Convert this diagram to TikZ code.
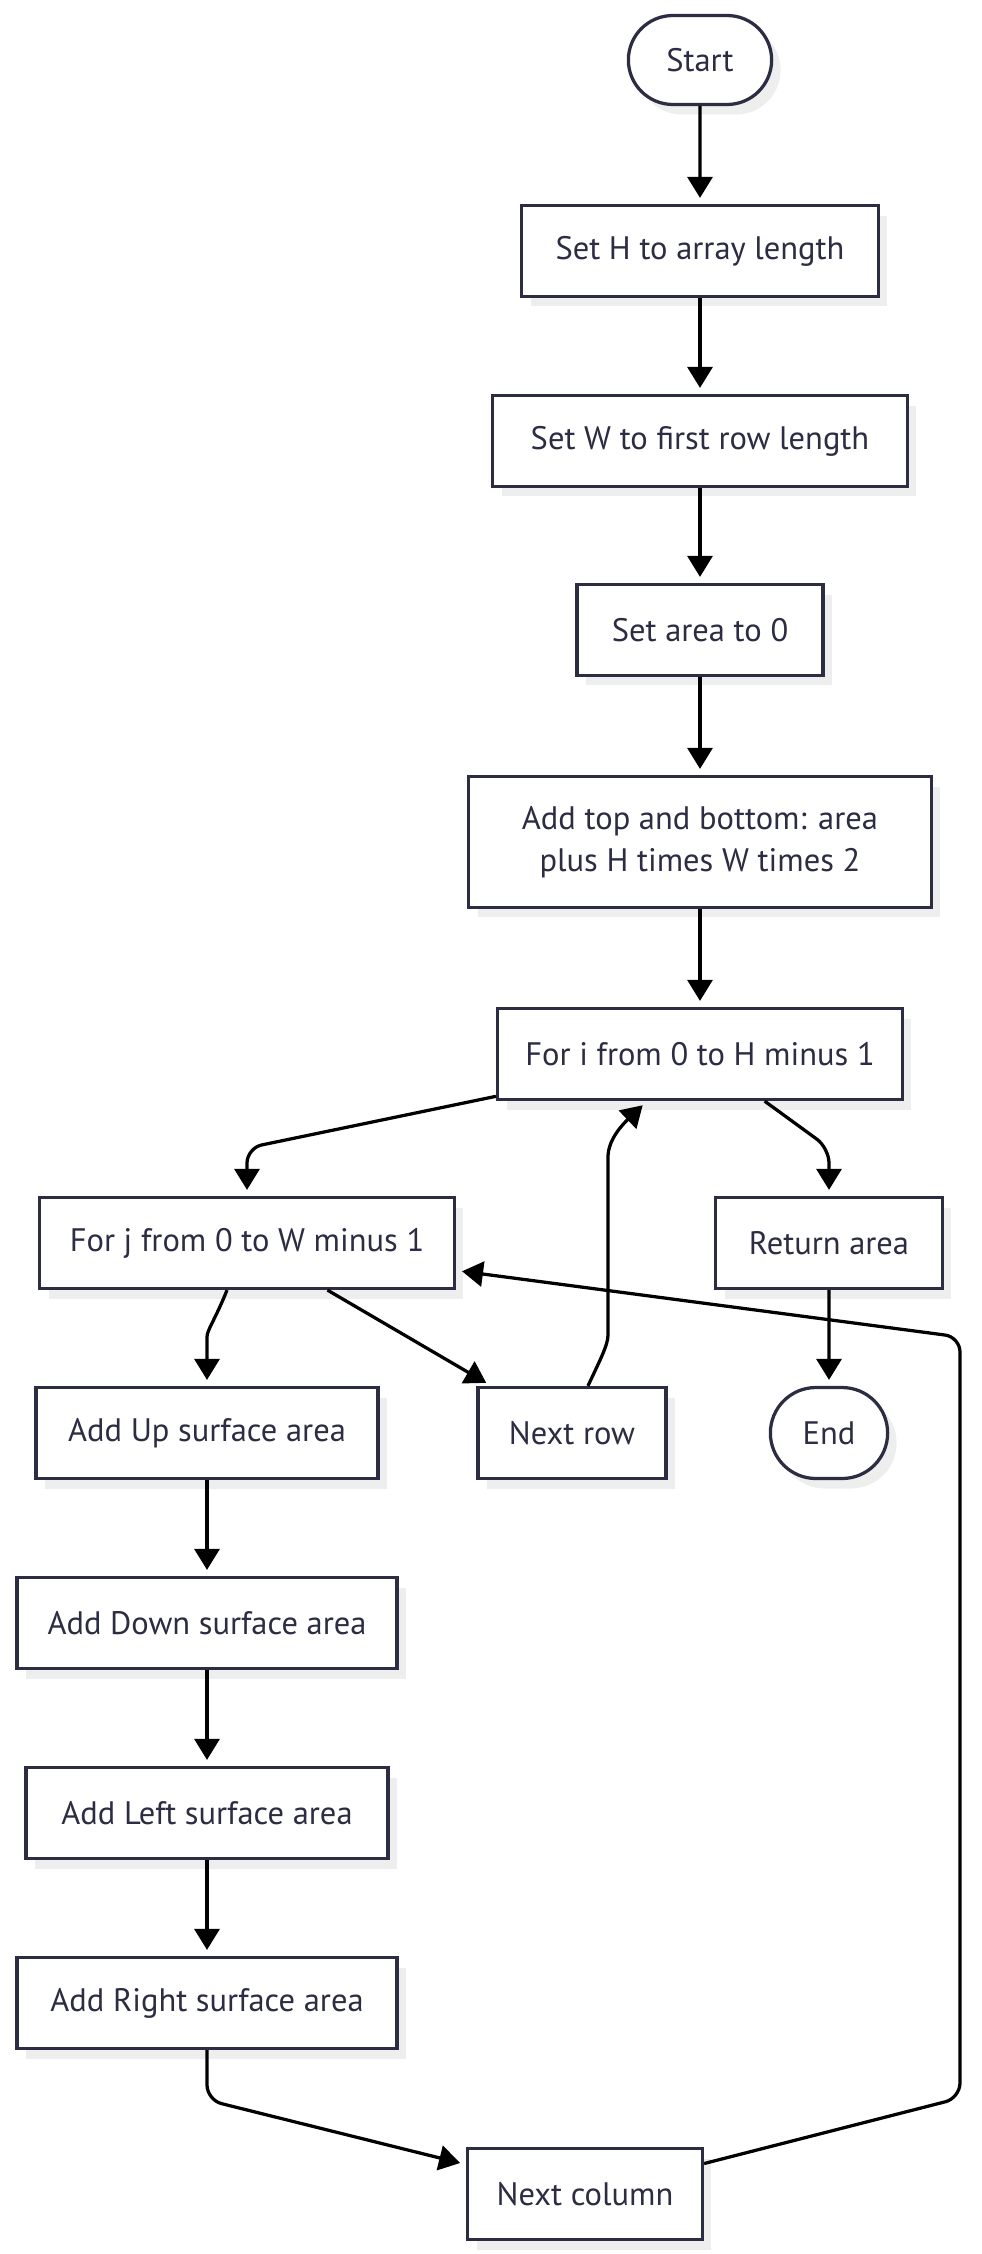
\documentclass[tikz,border=0pt]{standalone}
\usepackage{fontspec}
\setmainfont{PT Sans}
\usetikzlibrary{shapes.misc,shadows,arrows.meta}
\definecolor{ink}{HTML}{2C2C42}
\definecolor{shade}{HTML}{EEEEEE}

\begin{document}
\begin{tikzpicture}[x=0.02cm,y=-0.02cm,
    box/.style={draw=ink,line width=0.065cm,fill=white,text=ink,minimum height=1.82cm,
        font=\fontsize{18.5}{24}\selectfont,
        drop shadow={shadow xshift=0.18cm,shadow yshift=-0.2cm,fill=shade,opacity=1}},
    term/.style={box,rounded rectangle},
    arr/.style={draw=black,line width=0.065cm,-{Triangle[length=0.42cm,width=0.5cm]},
        shorten >=0.12cm,rounded corners=0.3cm}]
    \useasboundingbox (0,0) rectangle (981,2254);

    \node[term,minimum width=3.1cm,minimum height=1.78cm] (start) at (700,60) {Start};
    \node[box,minimum width=7.14cm] (seth) at (700,251) {Set H to array length};
    \node[box,minimum width=8.3cm] (setw) at (700,441) {Set W to first row length};
    \node[box,minimum width=4.92cm] (seta) at (700,630) {Set area to 0};
    \node[box,minimum width=9.26cm,minimum height=2.62cm,align=center] (addtb) at (700,842) {Add top and bottom: area\\plus H times W times 2};
    \node[box,minimum width=8.1cm] (fori) at (700,1054) {For i from 0 to H minus 1};
    \node[box,minimum width=8.3cm] (forj) at (247,1243) {For j from 0 to W minus 1};
    \node[box,minimum width=4.54cm] (ret) at (829,1243) {Return area};
    \node[box,minimum width=6.84cm] (up) at (207,1433) {Add Up surface area};
    \node[box,minimum width=3.76cm] (nrow) at (572,1433) {Next row};
    \node[term,minimum width=2.58cm] (end) at (829,1433) {End};
    \node[box,minimum width=7.6cm] (down) at (207,1623) {Add Down surface area};
    \node[box,minimum width=7.24cm] (left) at (207,1813) {Add Left surface area};
    \node[box,minimum width=7.6cm] (right) at (207,2003) {Add Right surface area};
    \node[box,minimum width=4.7cm] (ncol) at (585,2194) {Next column};

    % main line
    \draw[arr] (start) -- (seth);
    \draw[arr] (seth) -- (setw);
    \draw[arr] (setw) -- (seta);
    \draw[arr] (seta) -- (addtb);
    \draw[arr] (addtb) -- (fori);
    \draw[arr] (fori) -- (247,1148) -- (forj);
    \draw[arr] (fori) -- (829,1148) -- (ret);
    \draw[arr] (ret) -- (end);

    % inner loop
    \draw[arr] ([xshift=-0.4cm]forj.south) .. controls (215,1320) and (207,1330) .. (207,1352) -- (up);
    \draw[arr] (forj) -- (nrow);
    \draw[arr] (up) -- (down);
    \draw[arr] (down) -- (left);
    \draw[arr] (left) -- (right);
    \draw[arr] (right) -- (207,2100) -- (ncol);
    \draw[arr] (ncol) -- (960,2098) -- (960,1337) -- (forj);

    % back to outer loop
    \draw[arr] ([xshift=0.32cm]nrow.north) .. controls (600,1360) and (608,1345) .. (608,1320) -- (608,1172)
        .. controls (608,1140) and (622,1125) .. ([xshift=-1.06cm]fori.south);
\end{tikzpicture}
\end{document}
